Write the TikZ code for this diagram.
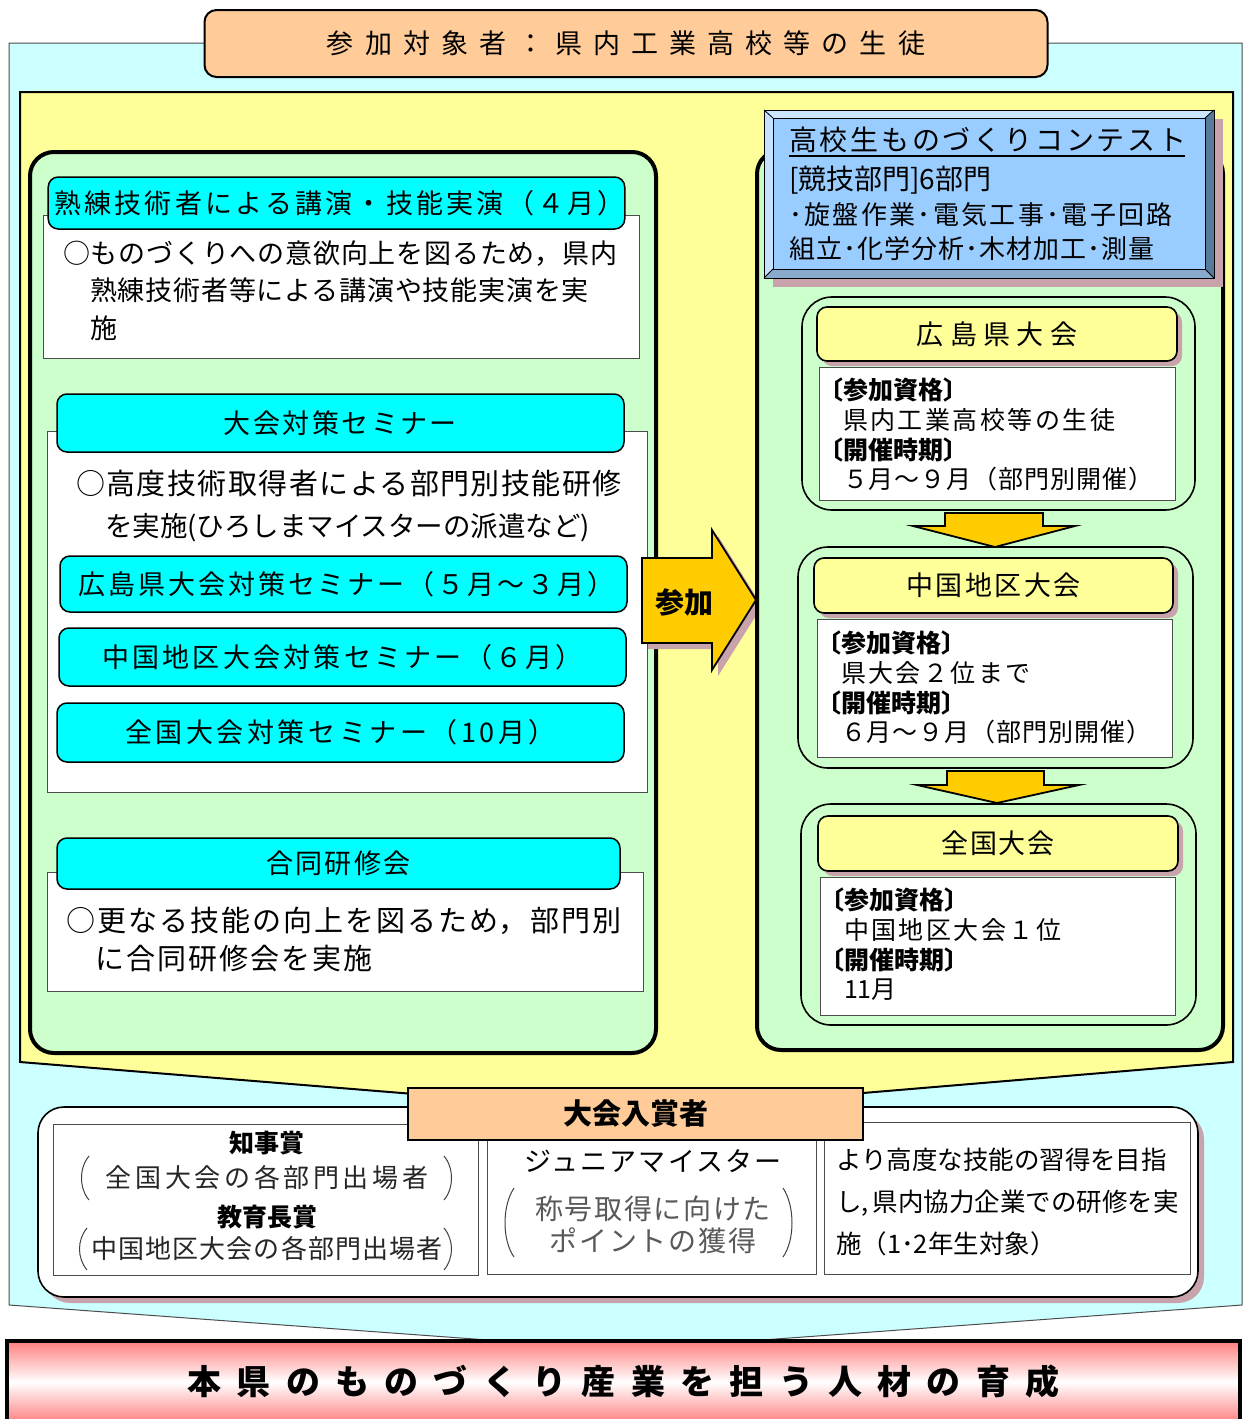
\documentclass[tikz,border=0pt]{standalone}
\usepackage{fontspec}
\setmainfont{Noto Sans CJK JP}
\usepackage{tikz}
\usetikzlibrary{shadows}

\definecolor{skyback}{HTML}{CCFFFF}
\definecolor{creamback}{HTML}{FFFF99}
\definecolor{mintback}{HTML}{CCFFCC}
\definecolor{aquabox}{HTML}{00FFFF}
\definecolor{peachbox}{HTML}{FFCC99}
\definecolor{goldarrow}{HTML}{FFCC00}
\definecolor{bluebox}{HTML}{99CCFF}
\definecolor{bevellight}{HTML}{CCE5FF}
\definecolor{beveldark}{HTML}{5A7A9A}
\definecolor{bevelbottom}{HTML}{88AACC}
\definecolor{shadowpink}{HTML}{C9A3AB}
\definecolor{redtop}{HTML}{FF7F7F}

\newcommand{\sizept}[2]{\fontsize{#1}{#2}\selectfont}
\newcommand{\trackby}[1]{\addfontfeature{LetterSpace=#1}}

\tikzset{
  pinkshadow/.style={drop shadow={shadow xshift=#1, shadow yshift=-#1, fill=shadowpink, opacity=1}},
  stage/.style={draw=black, line width=4pt, rounded corners=24pt, fill=mintback},
  aquahead/.style={draw=black, line width=1.5pt, rounded corners=10pt, fill=aquabox, font={\sizept{27}{27}\trackby{9}}},
  note/.style={draw=black!70, line width=0.8pt, fill=white},
  notetext/.style={anchor=west, align=left},
  roundgroup/.style={draw=black, line width=1.6pt, rounded corners=30pt, fill=mintback},
  creamhead/.style={draw=black, line width=1.6pt, rounded corners=10pt, fill=creamback, pinkshadow=5pt},
  peachhead/.style={draw=black, line width=1.6pt, fill=peachbox},
  goldarrowshape/.style={draw=black, line width=1.8pt, fill=goldarrow, line join=miter},
  paren/.style={draw=black!75, line width=1pt},
}

\begin{document}
\begin{tikzpicture}[x=1pt,y=-1pt,every node/.style={inner sep=0pt,outer sep=0pt}]

\useasboundingbox (0,0) rectangle (1245,1419);

% backgrounds
\coordinate (s1) at (9,43);
\coordinate (s2) at (1242,43);
\coordinate (s3) at (1242,1305);
\coordinate (s4) at (625,1350);
\coordinate (s5) at (9,1305);
\filldraw[fill=skyback, draw=black!70, line width=1pt] (s1) -- (s2) -- (s3) -- (s4) -- (s5) -- cycle;

\coordinate (c1) at (20,92);
\coordinate (c2) at (1233,92);
\coordinate (c3) at (1233,1062);
\coordinate (c4) at (636,1112);
\coordinate (c5) at (20,1062);
\filldraw[fill=creamback, draw=black, line width=2pt] (c1) -- (c2) -- (c3) -- (c4) -- (c5) -- cycle;

\node[draw=black, line width=2pt, rounded corners=12pt, fill=peachbox,
      minimum width=843pt, minimum height=67pt, font={\sizept{27}{27}\trackby{41}}]
      (target) at (626,43.5) {参加対象者：県内工業高校等の生徒};

% left side
\node[stage, minimum width=626pt, minimum height=901pt] (leftstage) at (343,602.5) {};

\node[note, minimum width=596pt, minimum height=143pt] (lecturenote) at (341,286.5) {};
\node[aquahead, minimum width=567pt, minimum height=52pt, font={\sizept{27}{27}\trackby{12}}] (lecturehead) at (336.5,203) {\hspace*{6pt}熟練技術者による講演・技能実演（４月）};
\node[notetext, font={\sizept{27}{37.5}\trackby{3}}] (lecturetext) at (63,290.5)
  {○ものづくりへの意欲向上を図るため，県内\\\hspace*{1em}熟練技術者等による講演や技能実演を実\\\hspace*{1em}施};

\node[note, minimum width=600pt, minimum height=361pt] (seminarnote) at (347,611.5) {};
\node[aquahead, minimum width=567pt, minimum height=58pt] (seminarhead) at (340.5,423) {大会対策セミナー};
\node[notetext, font={\sizept{29}{42}}] (seminartext) at (76,506)
  {{\trackby{5}○高度技術取得者による部門別技能研修}\\\hspace*{29pt}{\sizept{27.5}{42}を実施(ひろしまマイスターの派遣など)}};
\node[aquahead, minimum width=567pt, minimum height=56pt, font={\sizept{27}{27}\trackby{11}}] (prefseminar) at (343.5,584) {\hspace*{6pt}広島県大会対策セミナー（５月～３月）};
\node[aquahead, minimum width=567pt, minimum height=58pt, font={\sizept{27}{27}\trackby{12}}] (chugokuseminar) at (342.5,657) {中国地区大会対策セミナー（６月）};
\node[aquahead, minimum width=567pt, minimum height=59pt, font={\sizept{27}{27}\trackby{13}}] (nationalseminar) at (340.5,732.5) {全国大会対策セミナー（10月）};

\node[note, minimum width=596pt, minimum height=119pt] (jointnote) at (345,931.5) {};
\node[aquahead, minimum width=563pt, minimum height=51pt] (jointhead) at (338.5,863.5) {合同研修会};
\node[notetext, font={\sizept{29}{38}\trackby{7}}] (jointtext) at (66,939)
  {○更なる技能の向上を図るため，部門別\\\hspace*{1em}に合同研修会を実施};

% join arrow
\coordinate (j1) at (642,558);
\coordinate (j2) at (712,558);
\coordinate (j3) at (712,530);
\coordinate (j4) at (756,600);
\coordinate (j5) at (712,670);
\coordinate (j6) at (712,643);
\coordinate (j7) at (642,643);
\filldraw[goldarrowshape, pinkshadow=6pt] (j1) -- (j2) -- (j3) -- (j4) -- (j5) -- (j6) -- (j7) -- cycle;
\node[font={\sizept{29}{29}\bfseries}] (joinlabel) at (684,602) {参加};

% right side
\node[stage, minimum width=466pt, minimum height=900pt] (rightstage) at (990,600) {};

\coordinate (b1) at (764,110);
\coordinate (b2) at (1214,110);
\coordinate (b3) at (1214,278);
\coordinate (b4) at (764,278);
\coordinate (f1) at (773,118);
\coordinate (f2) at (1205,118);
\coordinate (f3) at (1205,269);
\coordinate (f4) at (773,269);
\fill[shadowpink] (773,119) rectangle (1223,287);
\fill[bevellight] (b1) -- (b2) -- (f2) -- (f1) -- cycle;
\fill[bevellight!85!bluebox] (b1) -- (f1) -- (f4) -- (b4) -- cycle;
\fill[beveldark] (b2) -- (b3) -- (f3) -- (f2) -- cycle;
\fill[bevelbottom] (b4) -- (f4) -- (f3) -- (b3) -- cycle;
\filldraw[fill=bluebox, draw=black, line width=0.8pt] (f1) rectangle (f3);
\draw[black, line width=1pt] (b1) rectangle (b3);
\draw[black, line width=0.8pt] (b1) -- (f1) (b2) -- (f2) (b3) -- (f3) (b4) -- (f4);

\node[anchor=west, font={\sizept{28}{28}\trackby{10}}] (contesttitle) at (789,140) {高校生ものづくりコンテスト};
\draw[line width=1.8pt] ([yshift=-3pt]contesttitle.south west) -- ([xshift=-2pt,yshift=-3pt]contesttitle.south east);
\node[anchor=west, font={\sizept{28}{28}}] (contestsections) at (789,180) {[競技部門]6部門};
\node[anchor=west, font={\sizept{26}{26}\trackby{9}}] (contestlistA) at (789,215) {･旋盤作業･電気工事･電子回路};
\node[anchor=west, font={\sizept{26}{26}\trackby{4}}] (contestlistB) at (789,249) {組立･化学分析･木材加工･測量};

% prefecture
\node[roundgroup, minimum width=393pt, minimum height=213pt] (prefgroup) at (998.5,403.5) {};
\node[creamhead, minimum width=360pt, minimum height=54pt, font={\sizept{27}{27}\trackby{24}}] (prefhead) at (997,334) {広島県大会};
\node[note, minimum width=356pt, minimum height=133pt] (prefnote) at (997,433.5) {};
\node[notetext, font={\sizept{25}{29.7}}] (preftext) at (818,434.5)
  {{\bfseries 〔参加資格〕}\\\hspace*{1em}{\trackby{10}県内工業高校等の生徒}\\{\bfseries 〔開催時期〕}\\\hspace*{1em}{\trackby{4}５月～９月（部門別開催）}};

\coordinate (d1) at (945,513);
\coordinate (d2) at (1043,513);
\coordinate (d3) at (1043,526);
\coordinate (d4) at (1075,526);
\coordinate (d5) at (995,547);
\coordinate (d6) at (913,526);
\coordinate (d7) at (945,526);
\filldraw[goldarrowshape] (d1) -- (d2) -- (d3) -- (d4) -- (d5) -- (d6) -- (d7) -- cycle;

% chugoku
\node[roundgroup, minimum width=395pt, minimum height=221pt] (chugokugroup) at (995.5,657.5) {};
\node[creamhead, minimum width=359pt, minimum height=55pt, font={\sizept{27}{27}\trackby{9}}] (chugokuhead) at (993.5,585.5) {中国地区大会};
\node[note, minimum width=355pt, minimum height=138pt] (chugokunote) at (994.5,688) {};
\node[notetext, font={\sizept{25}{29.7}}] (chugokutext) at (816,687.5)
  {{\bfseries 〔参加資格〕}\\\hspace*{1em}{\trackby{10}県大会２位まで}\\{\bfseries 〔開催時期〕}\\\hspace*{1em}{\trackby{4}６月～９月（部門別開催）}};

\coordinate (e1) at (947,771);
\coordinate (e2) at (1044,771);
\coordinate (e3) at (1044,785);
\coordinate (e4) at (1079,785);
\coordinate (e5) at (997,803);
\coordinate (e6) at (917,785);
\coordinate (e7) at (947,785);
\filldraw[goldarrowshape] (e1) -- (e2) -- (e3) -- (e4) -- (e5) -- (e6) -- (e7) -- cycle;

% national
\node[roundgroup, minimum width=395pt, minimum height=221pt] (nationalgroup) at (998.5,914.5) {};
\node[creamhead, minimum width=360pt, minimum height=55pt, font={\sizept{27}{27}\trackby{7}}] (nationalhead) at (998,843.5) {全国大会};
\node[note, minimum width=355pt, minimum height=138pt] (nationalnote) at (997.5,946) {};
\node[notetext, font={\sizept{25}{29.7}}] (nationaltext) at (819,944.5)
  {{\bfseries 〔参加資格〕}\\\hspace*{1em}{\trackby{10}中国地区大会１位}\\{\bfseries 〔開催時期〕}\\\hspace*{1em}11月};

% winners
\node[draw=black, line width=1.6pt, rounded corners=26pt, fill=white, pinkshadow=6pt,
      minimum width=1160pt, minimum height=190pt] (winnergroup) at (618,1202) {};
\node[note, minimum width=425pt, minimum height=151pt] (awardnote) at (265.5,1199.5) {};
\node[note, minimum width=329pt, minimum height=134pt] (masternote) at (651.5,1207) {};
\node[note, minimum width=366pt, minimum height=152pt] (trainingnote) at (1007,1198) {};
\node[peachhead, minimum width=455pt, minimum height=52pt, font={\sizept{29}{29}\bfseries}] (winnerhead) at (635.5,1114) {大会入賞者};

\node[font={\sizept{25}{25}\bfseries}] (governor) at (267,1143) {知事賞};
\node[font={\sizept{26}{26}\trackby{14}}, text=black!85] (governorwho) at (267,1178) {全国大会の各部門出場者};
\node[font={\sizept{25}{25}\bfseries}] (education) at (267,1217) {教育長賞};
\node[font={\sizept{26}{26}\trackby{4}}, text=black!85] (educationwho) at (267,1249) {中国地区大会の各部門出場者};
\draw[paren] (89,1156) .. controls (79,1168) and (79,1188) .. (89,1200);
\draw[paren] (444,1156) .. controls (454,1168) and (454,1188) .. (444,1200);
\draw[paren] (87,1228) .. controls (77,1240) and (77,1258) .. (87,1270);
\draw[paren] (444,1228) .. controls (454,1240) and (454,1258) .. (444,1270);

\node[font={\sizept{27}{27}\trackby{8}}] (juniormeister) at (653,1161) {ジュニアマイスター};
\node[font={\sizept{28}{28}\trackby{6}}, text=black!65] (meisterpoint1) at (653,1209) {称号取得に向けた};
\node[font={\sizept{28}{28}\trackby{6}}, text=black!65] (meisterpoint2) at (653,1241) {ポイントの獲得};
\draw[paren] (514,1188) .. controls (502,1206) and (502,1240) .. (514,1257);
\draw[paren] (783,1188) .. controls (795,1206) and (795,1240) .. (783,1257);

\node[notetext, font={\sizept{25.5}{42}}] (trainingtext) at (836,1202)
  {より高度な技能の習得を目指\\し,\,県内協力企業での研修を実\\施（1･2年生対象）};

% goal
\node[draw=black, line width=3.5pt, top color=redtop, bottom color=redtop, middle color=white,
      minimum width=1233pt, minimum height=82pt, font={\sizept{34}{34}\bfseries\trackby{45}}]
      (goal) at (623.5,1382) {本県のものづくり産業を担う人材の育成};

\end{tikzpicture}
\end{document}
